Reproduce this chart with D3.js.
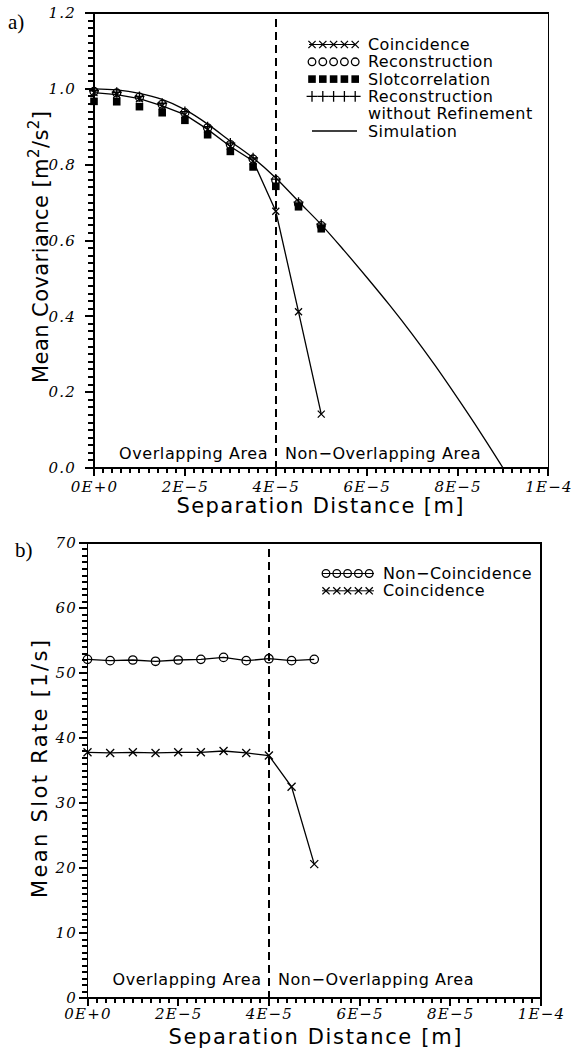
<!DOCTYPE html>
<html>
<head>
<meta charset="utf-8">
<script src="https://cdn.jsdelivr.net/npm/d3@7"></script>
<style>
body { margin: 0; background: #fff; }
svg { display: block; }
.tick text { font-family: "DejaVu Serif"; font-style: italic; font-size: 15px; letter-spacing: 1.2px; fill: #000; }
.lbl { font-family: "DejaVu Sans"; font-size: 16px; letter-spacing: 0.4px; }
.title { font-family: "DejaVu Sans"; font-size: 21px; }
.panel { font-family: "Liberation Serif"; font-size: 21px; }
</style>
</head>
<body>
<svg width="576" height="1052"></svg>
<script>
// panel a) mean covariance vs separation
var sepA = [0, 0.5e-5, 1e-5, 1.5e-5, 2e-5, 2.5e-5, 3e-5, 3.5e-5, 4e-5, 4.5e-5, 5e-5]
var coincA = [0.990, 0.985, 0.974, 0.955, 0.932, 0.893, 0.848, 0.810, 0.677, 0.412, 0.142]
var reconA = [0.993, 0.989, 0.978, 0.959, 0.937, 0.897, 0.853, 0.815, 0.759, 0.697, 0.639]
var slotA = [0.967, 0.966, 0.953, 0.937, 0.917, 0.879, 0.835, 0.794, 0.743, 0.689, 0.631]
var reconNoRefA = [0.995, 0.991, 0.980, 0.962, 0.940, 0.900, 0.857, 0.818, 0.762, 0.701, 0.643]
var simSep = [0, 0.5e-5, 1e-5, 1.5e-5, 2e-5, 2.5e-5, 3e-5, 3.5e-5, 4e-5, 4.5e-5, 5e-5, 5.5e-5, 6e-5, 6.5e-5, 7e-5, 7.5e-5, 8e-5, 8.5e-5, 9e-5]
var simCov = [1.000, 0.997, 0.988, 0.972, 0.945, 0.907, 0.862, 0.818, 0.765, 0.703, 0.642, 0.574, 0.503, 0.430, 0.353, 0.271, 0.184, 0.094, 0.000]

// panel b) mean slot rate vs separation
var sepB = [0, 0.5e-5, 1e-5, 1.5e-5, 2e-5, 2.5e-5, 3e-5, 3.5e-5, 4e-5, 4.5e-5, 5e-5]
var nonCoincB = [52.1, 51.9, 52.0, 51.8, 52.0, 52.1, 52.4, 51.9, 52.2, 51.9, 52.1]
var coincB = [37.8, 37.7, 37.8, 37.7, 37.8, 37.8, 38.0, 37.7, 37.3, 32.5, 20.6]

var xTickVals = [0, 2e-5, 4e-5, 6e-5, 8e-5, 1e-4]
var xTickLabels = ["0E+0", "2E\u22125", "4E\u22125", "6E\u22125", "8E\u22125", "1E\u22124"]
var yTicksA = [0, 0.2, 0.4, 0.6, 0.8, 1.0, 1.2]
var yLabelsA = ["0.0", "0.2", "0.4", "0.6", "0.8", "1.0", "1.2"]
var yTicksB = [0, 10, 20, 30, 40, 50, 60, 70]
var yLabelsB = ["0", "10", "20", "30", "40", "50", "60", "70"]
var legendA = ["Coincidence", "Reconstruction", "Slotcorrelation", "Reconstruction", "without  Refinement", "Simulation"]
var legendB = ["Non\u2212Coincidence", "Coincidence"]

var svg = d3.select("svg")

var xA = d3.scaleLinear().domain([0, 1e-4]).range([94, 548.5])
var yA = d3.scaleLinear().domain([0, 1.2]).range([468, 13])
var xB = d3.scaleLinear().domain([0, 1e-4]).range([87.5, 541])
var yB = d3.scaleLinear().domain([0, 70]).range([998, 543])

function drawAxes(x, y, o) {
    var g = svg.append("g")
    var y0 = y.range()[0]
    var x0 = x.range()[0]
    // labels from d3 axes
    g.append("g").attr("transform", "translate(0," + y0 + ")")
        .call(d3.axisBottom(x).tickValues(xTickVals).tickSize(8).tickPadding(o.xPad)
            .tickFormat((d, i) => xTickLabels[i]))
    g.append("g").attr("transform", "translate(" + x0 + ",0)")
        .call(d3.axisLeft(y).tickValues(o.yTicks).tickSize(8).tickPadding(o.yPad)
            .tickFormat((d, i) => o.yLabels[i]))
    g.selectAll(".domain").remove()
    g.selectAll(".tick line").remove()
    // tick marks, snapped to whole pixels, 2px thick
    var tk = g.append("g").attr("fill", "#000").attr("shape-rendering", "crispEdges")
    d3.range(51).forEach(i => {
        var v = i * 2e-6, len = i % 10 == 0 ? 8 : 5
        tk.append("rect").attr("x", Math.round(x(v)) - 1).attr("y", Math.round(y0)).attr("width", 2).attr("height", len)
    })
    o.yMinor.forEach((v, i) => {
        var len = i % 10 == 0 ? 9 : 6
        tk.append("rect").attr("x", Math.round(x0) - len).attr("y", Math.round(y(v)) - 1).attr("width", len).attr("height", 2)
    })
    g.append("rect")
        .attr("x", x0).attr("y", y.range()[1])
        .attr("width", x.range()[1] - x0).attr("height", y0 - y.range()[1])
        .attr("fill", "none").attr("stroke", "#000").attr("stroke-width", 1.5)
        .attr("shape-rendering", "crispEdges")
    // dashed separation line at 4E-5
    g.append("line")
        .attr("x1", x(4e-5)).attr("x2", x(4e-5))
        .attr("y1", y.range()[1] + 6).attr("y2", y0)
        .attr("stroke", "#000").attr("stroke-width", 1.4).attr("stroke-dasharray", "8,5")
        .attr("shape-rendering", "crispEdges")
}

drawAxes(xA, yA, {xPad: 5, yPad: 10, yTicks: yTicksA, yLabels: yLabelsA, yMinor: d3.range(61).map(i => i * 0.02)})
drawAxes(xB, yB, {xPad: 2, yPad: 2.5, yTicks: yTicksB, yLabels: yLabelsB, yMinor: d3.range(71)})

// marker helpers
function cross(g, cx, cy, s) {
    g.append("path").attr("d", `M${cx - s},${cy - s}L${cx + s},${cy + s}M${cx - s},${cy + s}L${cx + s},${cy - s}`)
        .attr("stroke", "#000").attr("stroke-width", 1.3).attr("fill", "none")
}
function plus(g, cx, cy, s) {
    g.append("path").attr("d", `M${cx - s},${cy}L${cx + s},${cy}M${cx},${cy - s}L${cx},${cy + s}`)
        .attr("stroke", "#000").attr("stroke-width", 1.3).attr("fill", "none")
}
function ring(g, cx, cy, r) {
    g.append("circle").attr("cx", cx).attr("cy", cy).attr("r", r)
        .attr("stroke", "#000").attr("stroke-width", 1.3).attr("fill", "none")
}
function square(g, cx, cy, s) {
    g.append("rect").attr("x", cx - s).attr("y", cy - s).attr("width", 2 * s).attr("height", 2 * s).attr("fill", "#000")
}

// ---- panel a marks
var line = d3.line()
var plotA = svg.append("g")
plotA.append("path")
    .attr("d", d3.line().curve(d3.curveCatmullRom)(simSep.map((d, i) => [xA(d), yA(simCov[i])])))
    .attr("fill", "none").attr("stroke", "#000").attr("stroke-width", 1.3)
plotA.append("path")
    .attr("d", line(sepA.map((d, i) => [xA(d), yA(coincA[i])])))
    .attr("fill", "none").attr("stroke", "#000").attr("stroke-width", 1.3)
sepA.forEach((d, i) => {
    square(plotA, xA(d), yA(slotA[i]), 3.8)
    ring(plotA, xA(d), yA(reconA[i]), 4)
    plus(plotA, xA(d), yA(reconNoRefA[i]), 5)
    cross(plotA, xA(d), yA(coincA[i]), 3.5)
})

// ---- panel b marks
var plotB = svg.append("g")
plotB.append("path")
    .attr("d", line(sepB.map((d, i) => [xB(d), yB(nonCoincB[i])])))
    .attr("fill", "none").attr("stroke", "#000").attr("stroke-width", 1.3)
plotB.append("path")
    .attr("d", line(sepB.map((d, i) => [xB(d), yB(coincB[i])])))
    .attr("fill", "none").attr("stroke", "#000").attr("stroke-width", 1.3)
sepB.forEach((d, i) => {
    ring(plotB, xB(d), yB(nonCoincB[i]), 4.2)
    cross(plotB, xB(d), yB(coincB[i]), 4)
})

// ---- legends
var legA = svg.append("g")
var rowsA = [44.5, 61.8, 79.1, 96.4, 113.7, 131]
legendA.forEach((t, i) => {
    legA.append("text").attr("class", "lbl").attr("x", 368).attr("y", rowsA[i] + 5.5).text(t)
})
for (var k = 0; k < 5; k++) {
    var cx = 312 + k * 10.8
    cross(legA, cx, rowsA[0], 3.6)
    ring(legA, cx, rowsA[1], 3.8)
    square(legA, cx, rowsA[2], 3.8)
    plus(legA, cx, rowsA[3], 5.4)
}
legA.append("line").attr("x1", 309).attr("x2", 356).attr("y1", rowsA[0]).attr("y2", rowsA[0]).attr("stroke", "#000").attr("stroke-width", 1)
legA.append("line").attr("x1", 312).attr("x2", 357).attr("y1", rowsA[5]).attr("y2", rowsA[5]).attr("stroke", "#000").attr("stroke-width", 1.3)

var legB = svg.append("g")
var rowsB = [573.5, 590.8]
legendB.forEach((t, i) => {
    legB.append("text").attr("class", "lbl").attr("x", 383).attr("y", rowsB[i] + 5.5).text(t)
})
for (var k = 0; k < 5; k++) {
    var cx = 326 + k * 10.8
    ring(legB, cx, rowsB[0], 3.8)
    cross(legB, cx, rowsB[1], 3.6)
}
rowsB.forEach(r => legB.append("line").attr("x1", 322).attr("x2", 374).attr("y1", r).attr("y2", r).attr("stroke", "#000").attr("stroke-width", 1))

// ---- area labels
function areaLabels(x, base) {
    svg.append("text").attr("class", "lbl").attr("x", x(0.55e-5)).attr("y", base)
        .attr("textLength", 149).text("Overlapping  Area")
    svg.append("text").attr("class", "lbl").attr("x", x(4.2e-5)).attr("y", base)
        .attr("textLength", 196).text("Non\u2212Overlapping  Area")
}
areaLabels(xA, 459)
areaLabels(xB, 985)

// ---- axis titles
svg.append("text").attr("class", "title").attr("x", 320).attr("y", 513)
    .attr("text-anchor", "middle").attr("textLength", 287).text("Separation  Distance  [m]")
svg.append("text").attr("class", "title").attr("x", 315).attr("y", 1043.5)
    .attr("text-anchor", "middle").attr("textLength", 293).text("Separation  Distance  [m]")

var tA = svg.append("text").attr("class", "title")
    .attr("transform", "translate(47.5,247) rotate(-90)")
    .attr("text-anchor", "middle").attr("textLength", 272)
tA.append("tspan").text("Mean  Covariance  [m")
tA.append("tspan").attr("dy", -9).attr("font-size", 15).text("2")
tA.append("tspan").attr("dy", 9).text("/s")
tA.append("tspan").attr("dy", -9).attr("font-size", 15).text("2")
tA.append("tspan").attr("dy", 9).text("]")

svg.append("text").attr("class", "title")
    .attr("transform", "translate(47,769) rotate(-90)")
    .attr("text-anchor", "middle").attr("textLength", 258).text("Mean  Slot  Rate  [1/s]")

// panel letters
svg.append("text").attr("class", "panel").attr("x", 8).attr("y", 29).text("a)")
svg.append("text").attr("class", "panel").attr("x", 15).attr("y", 557).text("b)")
</script>
</body>
</html>
